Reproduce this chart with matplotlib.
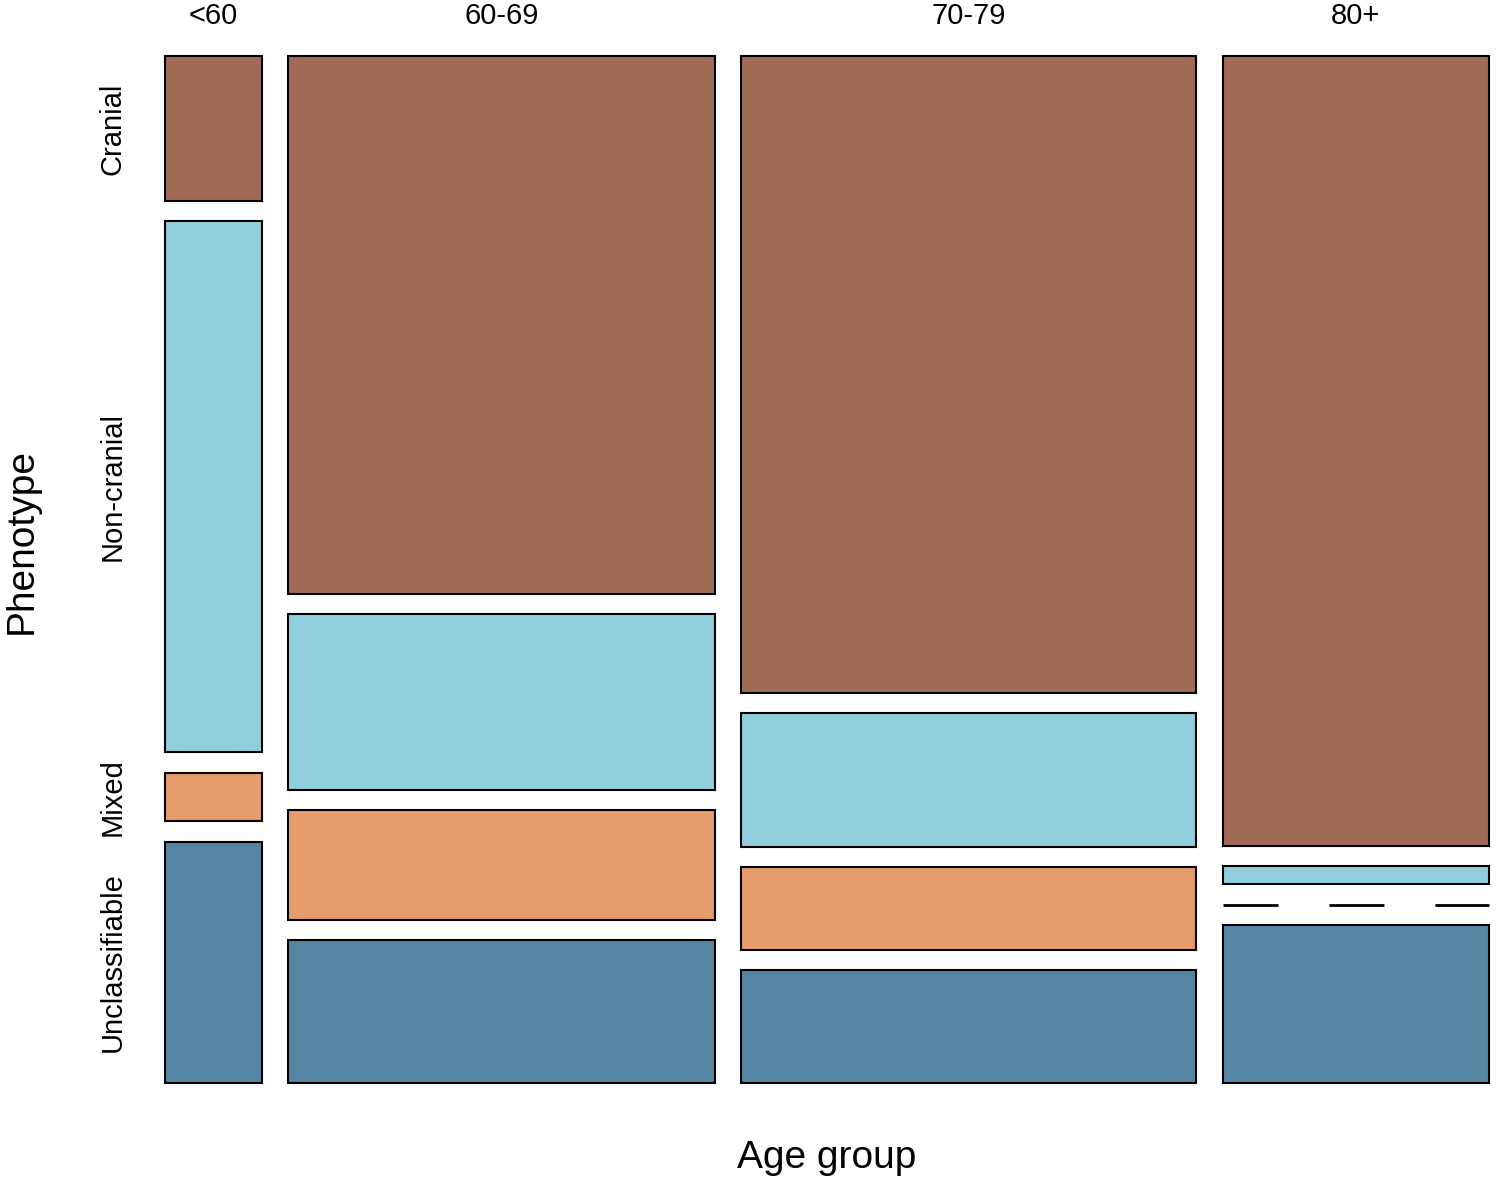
import numpy as np
import matplotlib.pyplot as plt
from matplotlib.patches import Rectangle

plt.rcParams['font.family'] = ['Liberation Sans', 'DejaVu Sans']
plt.rcParams['lines.scale_dashes'] = False

# counts read from the mosaic (rows = phenotype, columns = age group)
age_groups = ["<60", "60-69", "70-79", "80+"]
phenotypes = ["Cranial", "Non-cranial", "Mixed", "Unclassifiable"]
cranial = [3, 49, 62, 45]
non_cranial = [11, 16, 13, 1]
mixed = [1, 10, 8, 0]
unclassifiable = [5, 13, 11, 9]

colors = ["#9F6B57", "#91CEDD", "#E69B6C", "#5485A3"]

counts = np.array([cranial, non_cranial, mixed, unclassifiable], dtype=float)

fig = plt.figure(figsize=(14.96, 11.84), dpi=100)
ax = fig.add_axes([0, 0, 1, 1])
ax.set_xlim(0, 1496)
ax.set_ylim(1184, 0)
ax.axis("off")

# plotting region (figure pixels) and spacing between tiles
left, right, top, bottom = 165, 1489, 56, 1083
xgap, ygap = 26.3, 20.5

col_tot = counts.sum(axis=0)
avail_w = (right - left) - xgap * (len(age_groups) - 1)
avail_h = (bottom - top) - ygap * (len(phenotypes) - 1)

x = left
for j, grp in enumerate(age_groups):
    w = avail_w * col_tot[j] / col_tot.sum()
    y = top
    for i in range(len(phenotypes)):
        h = avail_h * counts[i, j] / col_tot[j]
        if counts[i, j] == 0:
            # empty cell drawn as a dashed line, like R's mosaicplot
            ax.plot([x, x + w], [y, y], color="black", lw=2,
                    dashes=(39.6, 36.7), solid_capstyle="butt")
        else:
            ax.add_patch(Rectangle((x, y), w, h, facecolor=colors[i],
                                   edgecolor="black", lw=1.5))
        if j == 0:
            ax.text(113, y + h / 2, phenotypes[i], rotation=90,
                    ha="center", va="center", fontsize=21)
        y += h + ygap
    ax.text(x + w / 2, 16, grp, ha="center", va="center", fontsize=21)
    x += w + xgap

ax.text((left + right) / 2, 1158, "Age group", ha="center", va="center", fontsize=28)
ax.text(22, 541, "Phenotype", rotation=90, ha="center", va="center", fontsize=28)

fig.savefig("out.png", dpi=100)
